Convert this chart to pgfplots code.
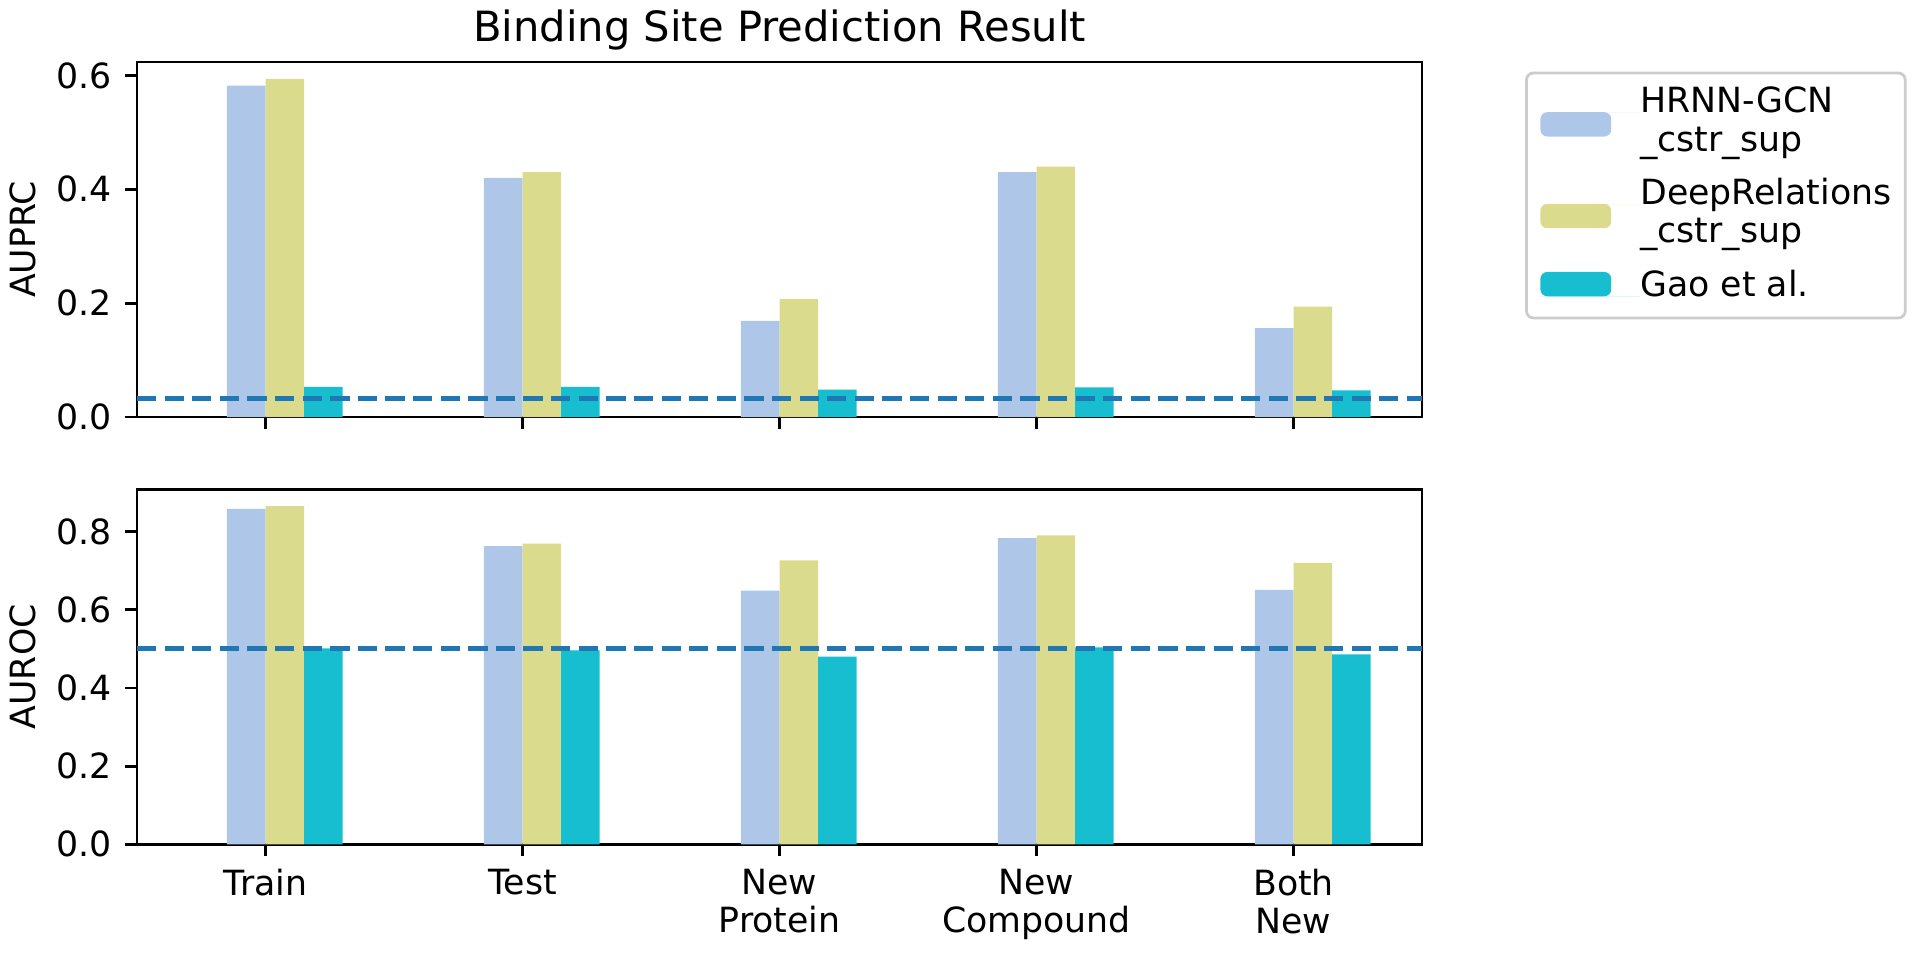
\documentclass[border=0pt]{standalone}
\usepackage{fontspec}
\setmainfont{DejaVu Sans}
\usepackage{pgfplots}
\usepackage{pgfplotstable}
\pgfplotsset{compat=1.18}
\definecolor{hrnn}{HTML}{AEC7E8}
\definecolor{deep}{HTML}{DBDB8D}
\definecolor{gao}{HTML}{17BECF}
\definecolor{base}{HTML}{1F77B4}

\pgfplotstableread{
x hrnn deep gao
0 0.582 0.594 0.053
1 0.420 0.430 0.053
2 0.169 0.207 0.048
3 0.430 0.440 0.052
4 0.156 0.194 0.047
}\prc
\pgfplotstableread{
x hrnn deep gao
0 0.858 0.865 0.501
1 0.763 0.769 0.496
2 0.649 0.726 0.480
3 0.783 0.790 0.504
4 0.651 0.720 0.486
}\roc

\pgfplotsset{
  myaxis/.style={
    scale only axis, width=370.08pt, height=102.24pt,
    xmin=-0.5, xmax=4.5, ymin=0,
    xtick={0,1,2,3,4},
    tick align=outside, xtick pos=lower, ytick pos=left,
    major tick length=3.5pt,
    every tick/.style={black, line width=0.8pt},
    axis line style={line width=0.8pt},
    /pgf/number format/assume math mode=true,
    yticklabel={\pgfmathprintnumber[fixed,fixed zerofill,precision=1]{\tick}},
    yticklabel style={inner sep=0pt, anchor=east, xshift=-3.5pt},
    xticklabel style={inner sep=0pt, anchor=north, yshift=-3.5pt, align=center, font=\fontsize{10}{11}\selectfont},
    ylabel style={at={(axis description cs:-0.0891,0.5)}, anchor=center, inner sep=0pt},
    clip=false,
  },
  barA/.style={ybar, bar width=0.15, bar shift=-0.075, fill=hrnn, draw=none},
  barB/.style={ybar, bar width=0.15, bar shift=0.075, fill=deep, draw=none},
  barC/.style={ybar, bar width=0.15, bar shift=0.225, fill=gao, draw=none},
  dashl/.style={base, line width=1.5pt, dash pattern=on 5.55pt off 2.4pt, forget plot, no markers},
  twoline image/.style={legend image code/.code={\fill[##1,draw=none] (0pt,-6.8pt) rectangle (20.4pt,0.2pt); \path (0pt,0pt) -- (28.8pt,0pt);}},
  oneline image/.style={legend image code/.code={\fill[##1,draw=none] (0pt,0pt) rectangle (20.4pt,7pt); \path (0pt,0pt) -- (28.8pt,0pt);}},
}

\begin{document}
\begin{tikzpicture}
\begin{axis}[myaxis,
  at={(39.46pt,-17.86pt)}, anchor=north west,
  ymax=0.6235, ytick={0,0.2,0.4,0.6},
  xticklabels={},
  ylabel={AUPRC},
  title={Binding Site Prediction Result},
  title style={at={(axis description cs:0.5,1)}, anchor=base, inner sep=0pt, font=\fontsize{12}{14}\selectfont},
  legend style={at={(axis description cs:1.0802,0.973)}, anchor=north west,
    draw={rgb,255:red,204;green,204;blue,204}, line width=0.8pt, rounded corners=2pt,
    inner xsep=4pt, inner ysep=3.5pt, row sep=0pt, column sep=0pt,
    nodes={inner sep=0pt, anchor=base west, text height=8pt, text depth=18.4pt, font=\fontsize{10}{11}\selectfont}},
  legend cell align=left,
]
\addplot[barA, twoline image] table[x=x,y=hrnn]{\prc};
\addlegendentry{\begin{tabular}[t]{@{}l@{}}HRNN-GCN\\\_cstr\_sup\end{tabular}}
\addplot[barB, twoline image] table[x=x,y=deep]{\prc};
\addlegendentry{\begin{tabular}[t]{@{}l@{}}DeepRelations\\\_cstr\_sup\end{tabular}}
\addplot[barC, oneline image] table[x=x,y=gao]{\prc};
\addlegendentry[text depth=2.75pt]{Gao et al.}
\addplot[dashl] coordinates {(-0.5,0.0323) (4.5,0.0323)};
\end{axis}

\begin{axis}[myaxis,
  at={(39.46pt,-140.92pt)}, anchor=north west,
  ymax=0.908, ytick={0,0.2,0.4,0.6,0.8},
  xticklabels={Train,Test,New\\Protein,New\\Compound,Both\\New},
  ylabel={AUROC},
]
\addplot[barA] table[x=x,y=hrnn]{\roc};
\addplot[barB] table[x=x,y=deep]{\roc};
\addplot[barC] table[x=x,y=gao]{\roc};
\addplot[dashl] coordinates {(-0.5,0.5) (4.5,0.5)};
\end{axis}
\pgfresetboundingbox
\useasboundingbox (0pt,0pt) rectangle (552.96pt,-274.18pt);
\end{tikzpicture}
\end{document}
